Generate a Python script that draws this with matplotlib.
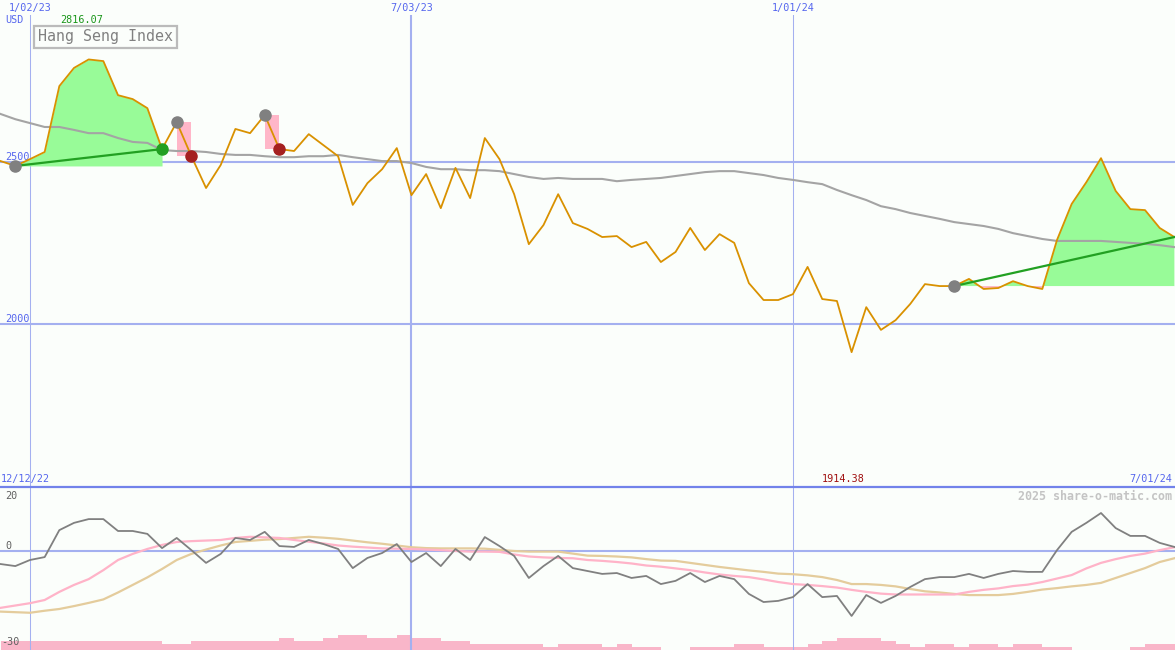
import matplotlib
matplotlib.use("Agg")
import matplotlib.pyplot as plt
import pandas as pd

W, H = 1175, 650
BG = "#fbfefb"
GRID = "#a4b0f0"
BLUE_TXT = "#5566ee"

# weekly closes, Hang Seng Index (USD)
weeks = pd.date_range("2022-12-19", periods=81, freq="7D")

close = [2503, 2488, 2509, 2531, 2734, 2790, 2816.07, 2811, 2706, 2694,
         2666, 2540, 2623, 2518, 2420, 2491, 2602, 2589, 2645, 2540,
         2534, 2586, 2552, 2518, 2368, 2435, 2478, 2543, 2398, 2463,
         2358, 2482, 2389, 2574, 2509, 2401, 2247, 2306, 2401, 2312,
         2294, 2269, 2272, 2238, 2254, 2192, 2223, 2297, 2229, 2278,
         2251, 2127, 2075, 2075, 2093, 2177, 2078, 2072, 1914.38, 2053,
         1983, 2013, 2063, 2124, 2118, 2118, 2140, 2109, 2112, 2133,
         2118, 2109, 2260, 2371, 2438, 2512, 2411, 2355, 2352, 2297,
         2269]

moving_avg = [2648, 2632, 2620, 2608, 2608, 2599, 2589, 2589, 2574, 2562,
              2559, 2537, 2534, 2534, 2531, 2525, 2522, 2522, 2518, 2515,
              2515, 2518, 2518, 2522, 2515, 2509, 2503, 2503, 2497, 2485,
              2478, 2478, 2475, 2475, 2472, 2463, 2454, 2448, 2451, 2448,
              2448, 2448, 2441, 2445, 2448, 2451, 2457, 2463, 2469, 2472,
              2472, 2466, 2460, 2451, 2445, 2438, 2432, 2414, 2398, 2383,
              2364, 2355, 2343, 2334, 2325, 2315, 2309, 2303, 2294, 2281,
              2272, 2263, 2257, 2257, 2257, 2257, 2254, 2251, 2248, 2244,
              2238]

# lower panel: oscillator and its two averages
osc = [-4.5, -5.2, -3.1, -2.1, 7.2, 9.7, 11.0, 11.0, 6.9, 6.9,
       5.9, 1.0, 4.5, 0.3, -4.1, -1.0, 4.5, 3.8, 6.6, 1.7,
       1.4, 3.8, 2.4, 0.7, -5.9, -2.4, -0.7, 2.4, -3.8, -0.7,
       -5.2, 0.7, -3.1, 4.8, 1.7, -1.7, -9.3, -5.2, -1.7, -5.9,
       -6.9, -7.9, -7.6, -9.3, -8.6, -11.4, -10.3, -7.6, -10.7, -8.6,
       -9.7, -14.8, -17.6, -17.2, -15.9, -11.4, -15.9, -15.5, -22.4, -15.2,
       -17.9, -15.5, -12.4, -9.7, -9.0, -9.0, -7.9, -9.3, -7.9, -6.9,
       -7.2, -7.2, 0.3, 6.6, 9.7, 13.1, 7.9, 5.2, 5.2, 2.8,
       1.4]

osc_fast = [-19.6, -18.8, -18.0, -16.9, -14.1, -11.7, -9.7, -6.6, -3.1, -1.0,
            0.7, 2.1, 3.1, 3.4, 3.6, 3.8, 4.5, 4.9, 4.7, 4.5,
            3.8, 3.2, 2.6, 1.9, 1.5, 1.2, 0.9, 0.8, 0.7, 0.5,
            0.3, 0.0, -0.2, -0.2, -0.3, -1.2, -1.9, -2.2, -2.4, -2.5,
            -3.1, -3.4, -3.8, -4.3, -5.0, -5.4, -6.0, -6.6, -7.4, -8.1,
            -8.6, -9.0, -9.8, -10.7, -11.4, -11.7, -12.1, -12.6, -13.4, -14.1,
            -14.7, -15.0, -15.0, -15.0, -15.0, -15.0, -14.1, -13.4, -12.9, -12.1,
            -11.6, -10.7, -9.5, -8.3, -6.0, -4.1, -2.8, -1.7, -0.9, 0.3,
            1.3]

osc_slow = [-20.9, -21.1, -21.3, -20.6, -20.0, -19.0, -17.9, -16.7, -14.3, -11.7,
            -9.1, -6.2, -3.1, -1.0, 0.5, 1.9, 3.1, 3.5, 3.9, 4.1,
            4.5, 4.9, 4.6, 4.2, 3.6, 3.0, 2.5, 1.9, 1.3, 1.0,
            0.9, 0.9, 0.9, 0.8, 0.4, 0.0, -0.2, -0.2, -0.2, -0.9,
            -1.6, -1.7, -1.9, -2.2, -2.8, -3.3, -3.4, -4.1, -4.8, -5.5,
            -6.1, -6.7, -7.2, -7.8, -8.0, -8.4, -9.0, -10.0, -11.4, -11.4,
            -11.7, -12.2, -13.1, -13.9, -14.3, -14.8, -15.2, -15.2, -15.2, -14.8,
            -14.1, -13.3, -12.8, -12.2, -11.7, -11.0, -9.3, -7.6, -5.9, -3.8,
            -2.5]

vol_level = [3, 3, 3, 3, 3, 3, 3, 3, 3, 3,
             3, 2, 2, 3, 3, 3, 3, 3, 3, 4,
             3, 3, 4, 5, 5, 4, 4, 5, 4, 4,
             3, 3, 2, 2, 2, 2, 2, 1, 2, 2,
             2, 1, 2, 1, 1, 0, 0, 1, 1, 1,
             2, 2, 1, 1, 1, 2, 3, 4, 4, 4,
             3, 2, 1, 2, 2, 1, 2, 2, 1, 2,
             2, 1, 1, 0, 0, 0, 0, 1, 2, 2,
             2]

grid_dates = pd.to_datetime(["2023-01-02", "2023-07-03", "2024-01-01"])
grid_labels = ["1/02/23", "7/03/23", "1/01/24"]
grid_widths = [1, 2, 1]
price_levels = [2500, 2000]
osc_levels = [20, 0, -30]

# signals (week indices)
rise1 = (1, 11)
drops = [(12, 13), (18, 19)]
rise2 = (65, 80)


def px_text(x, y, s, **kw):
    fig.text(x / W, 1 - y / H, s, family="DejaVu Sans Mono", **kw)


fig = plt.figure(figsize=(W / 100, H / 100), dpi=100, facecolor=BG)
ax = fig.add_axes([0, 163 / H, 1, 472 / H])
low = fig.add_axes([0, 0, 1, 163 / H])
vol = low.twinx()

x0 = weeks[0] - pd.Timedelta(days=0.31)
x1 = weeks[0] + pd.Timedelta(days=560.3)
for a in (ax, low, vol):
    a.set_facecolor(BG)
    a.set_xlim(x0, x1)
    a.set_xticks([])
    a.set_yticks([])
    for s in a.spines.values():
        s.set_visible(False)
low.set_zorder(2)
vol.set_zorder(1)
low.patch.set_visible(False)

ax.set_ylim(1499, 2953)
low.set_ylim(-34.14, 22.07)
vol.set_ylim(0, 54.33)

low.spines["top"].set_visible(True)
low.spines["top"].set_color("#7282ea")
low.spines["top"].set_linewidth(1.6)

for d, w in zip(grid_dates, grid_widths):
    ax.axvline(d, color=GRID, lw=w * 0.75, zorder=1)
    low.axvline(d, color=GRID, lw=w * 0.75, zorder=1)
for lv in price_levels:
    ax.axhline(lv, color=GRID, lw=1.5, zorder=1)
low.axhline(0, color=GRID, lw=1.5, zorder=1)

# main panel
s1, e1 = rise1
ax.fill_between(weeks[s1:e1 + 1], close[s1:e1 + 1], close[s1],
                color="#98fb98", lw=0, zorder=2)
s2, e2 = rise2
seg = close[s2:e2 + 1]
base = [close[s2]] * len(seg)
ax.fill_between(weeks[s2:e2 + 1], seg, base, where=[v >= close[s2] for v in seg],
                interpolate=True, color="#98fb98", lw=0, zorder=2)
ax.fill_between(weeks[s2:e2 + 1], seg, base, where=[v < close[s2] for v in seg],
                interpolate=True, color="#ffb6c8", lw=0, zorder=2)
for a, b in drops:
    ax.fill_between(weeks[a:b + 1], [close[a]] * 2, [close[b]] * 2,
                    color="#ffb6c8", lw=0, zorder=2)

ax.plot(weeks, moving_avg, color="#a4a4a4", lw=1.5, zorder=3)
ax.plot(weeks, close, color="#d99100", lw=1.3, zorder=4)

ax.plot([weeks[s1], weeks[e1]], [close[s1], close[e1]], color="#22a022", lw=1.6, zorder=5)
ax.plot([weeks[s2], weeks[e2]], [close[s2], close[e2]], color="#22a022", lw=1.6, zorder=5)

mk = dict(marker="o", ms=8, ls="none", zorder=6)
ax.plot([weeks[s1], weeks[s2]], [close[s1], close[s2]], color="#808080", **mk)
ax.plot(weeks[e1], close[e1], color="#22a022", **mk)
for a, b in drops:
    ax.plot(weeks[a], close[a], color="#808080", **mk)
    ax.plot(weeks[b], close[b], color="#a52020", **mk)

# lower panel
vol.bar(weeks, vol_level, width=7, align="edge", color="#f9b6c9", lw=0)
low.plot(weeks, osc_slow, color="#e4cc9c", lw=1.6, zorder=3)
low.plot(weeks, osc_fast, color="#ffb3c8", lw=1.6, zorder=3)
low.plot(weeks, osc, color="#808080", lw=1.3, zorder=4)

# labels
for d, lab in zip(grid_dates, grid_labels):
    ax.text(d, 1.0148, lab, transform=ax.get_xaxis_transform(), ha="center",
            va="center", fontsize=7.3, color=BLUE_TXT, family="DejaVu Sans Mono",
            clip_on=False)
for lv in price_levels:
    ax.text(0.004, lv, str(lv), transform=ax.get_yaxis_transform(), ha="left",
            va="bottom", fontsize=7.3, color=BLUE_TXT, family="DejaVu Sans Mono")

px_text(5, 20, "USD", fontsize=7.3, color=BLUE_TXT, ha="left", va="center")
px_text(82, 20, f"{max(close):.2f}", fontsize=7.3, color="#1a961a", ha="center", va="center")
px_text(38, 37, "Hang Seng Index", fontsize=10.8, color="#808080", ha="left", va="center",
        bbox=dict(boxstyle="square,pad=0.25", fc=BG, ec="#bbbbbb", lw=1.6))

px_text(1, 479, "12/12/22", fontsize=7.3, color=BLUE_TXT, ha="left", va="center")
px_text(843, 479, f"{min(close):.2f}", fontsize=7.3, color="#a01010", ha="center", va="center")
px_text(1172, 479, "7/01/24", fontsize=7.3, color=BLUE_TXT, ha="right", va="center")
px_text(1172, 496, "2025 share-o-matic.com", fontsize=8.4, color="#c4c4c4",
        ha="right", va="center", fontweight="bold")

for lv, ypx in zip(osc_levels, [496, 546, 642]):
    px_text(5 if lv >= 0 else 1, ypx, str(lv), fontsize=7.3, color="#606060",
            ha="left", va="center")

fig.savefig("out.png", dpi=100, facecolor=BG)
